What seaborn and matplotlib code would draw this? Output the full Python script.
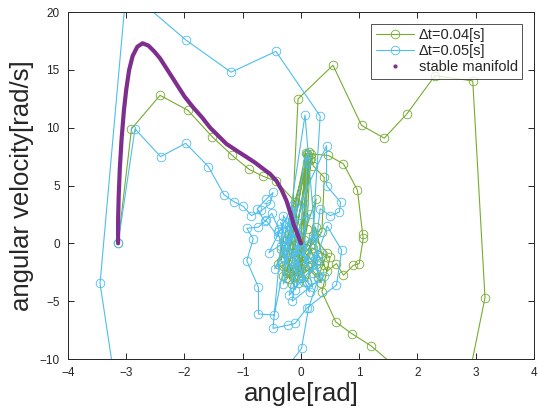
import numpy as np
import pandas as pd
import matplotlib
matplotlib.use('Agg')
import matplotlib.pyplot as plt
import seaborn as sns
from matplotlib.lines import Line2D

# trajectory for dt = 0.04 s
g_angle = [-3.14, -2.91, -2.42, -1.94, -1.52, -1.18, -0.89, -0.65, -0.43, -0.10,
           -0.05, -0.25, 0.10, 0.02, -0.20, 0.14, 0.05, -0.10, 0.18, 0.21,
           0.40, 0.36, -0.15, 0.26, 0.15, -0.30, 0.12, 0.18, 0.47, 0.73,
           0.97, 1.06, 1.07, 1.00, 0.90, 0.73, 0.61, 0.45, 0.30, 0.10,
           -0.05, 0.20, 0.50, 0.36, 0.60, 0.87, 1.20, 2.73, 3.16, 2.95,
           2.30, 1.82, 1.43, 1.04, 0.55, -0.05, -0.15, -0.35, -0.20, 0.05,
           0.25, 0.00, -0.10, -0.30, 0.08, -0.05, -0.35, 0.12, 0.00, -0.25,
           0.16, 0.10, -0.15, 0.05, 0.30, 0.45, 0.20, -0.05, -0.30, -0.40,
           -0.20, 0.10, 0.35, 0.15, -0.10, 0.00, 0.25, 0.40, -0.15, 0.05]
g_vel = [0.0, 9.9, 12.8, 11.5, 9.2, 7.6, 6.4, 5.8, 5.4, 3.6,
         0.6, -2.4, 7.7, -1.9, -3.1, 7.9, -0.8, -2.9, 7.4, 6.7,
         5.7, 1.0, -2.2, 3.85, -1.2, -2.8, 7.6, 7.73, 7.6, 6.87,
         4.6, 0.78, 0.45, -1.75, -1.9, -2.76, -1.75, -2.4, -1.0, -3.3,
         -2.0, -0.4, -1.2, -4.2, -6.8, -7.8, -8.85, -15.4, -4.7, 14.05,
         14.5, 11.2, 9.1, 10.2, 15.4, 12.5, 2.0, -1.5, 0.8, -2.6,
         -1.8, -0.5, 1.5, -2.0, 7.8, -3.4, -0.5, 7.5, -2.2, -3.0,
         7.2, 1.2, -3.5, -1.5, -2.9, -0.8, 0.6, -1.1, 0.2, -1.8,
         -2.6, -2.0, -3.4, -0.2, 0.2, -3.0, 1.4, -1.9, -1.5, 0.3]

# trajectory for dt = 0.05 s
b_angle = [-3.14, -2.85, -2.41, -1.98, -1.59, -1.32, -1.15, -0.99, -0.85, -0.68,
           -0.53, -0.48, -0.60, -0.75, -0.62, -0.50, -0.38, -0.40, -0.60, -0.73,
           -0.93, -0.82, -0.93, -0.73, -0.73, -0.46, -0.25, 0.10, 0.10, 0.05,
           -0.20, 0.44, 0.44, 0.68, 0.66, 0.50, 0.33, 0.20, -0.10, -0.30,
           -0.48, -0.22, -0.10, 0.10, 0.61, 0.70, 0.45, 0.25, -0.35, -0.15,
           -0.30, 0.15, -0.40, -0.10, 0.25, -0.45, 0.05, -0.20, 0.30, -0.35,
           -0.05, 0.15, -0.25, 0.40, -0.15, 0.00, -0.55, -0.15, 0.20, -0.30,
           0.07, 0.30, 0.13, 0.01, -2.74, -3.45, -3.00, -1.98, -1.20, -0.43,
           0.33, 0.20, -0.10, 0.35]
b_vel = [0.0, 9.9, 7.5, 8.65, 6.64, 4.2, 3.6, 3.2, 2.4, 2.85,
         3.4, 4.4, 3.8, 3.0, 1.9, 2.6, 1.2, 0.6, 2.0, 1.4,
         1.3, 0.4, -1.5, -3.8, -6.1, -6.2, -1.0, 7.7, 7.0, -3.3,
         1.5, 8.45, 5.0, 3.56, 2.7, 2.4, 3.0, -2.6, 0.5, 2.4,
         -7.35, -7.07, -6.92, -5.6, -3.6, -0.6, 1.5, -1.5, -0.2, 2.8,
         -3.5, 2.5, 1.0, -4.0, 0.8, -2.2, 3.5, -4.5, -1.5, 1.8,
         -3.0, -4.2, 0.3, -2.8, -5.0, 1.0, -0.8, 3.2, -3.8, -1.2,
         11.1, -3.0, -5.6, -9.08, -27.1, -3.47, 22.0, 17.6, 14.8, 16.6,
         11.0, 0.5, -2.0, -0.8]

# stable manifold
m_angle = [-3.14, -3.14, -3.13, -3.11, -3.08, -3.04, -3.00, -2.95, -2.89, -2.81,
           -2.72, -2.62, -2.52, -2.42, -2.28, -2.14, -2.00, -1.85, -1.70, -1.56,
           -1.42, -1.28, -1.10, -0.93, -0.78, -0.65, -0.53, -0.42, -0.33, -0.25,
           -0.18, -0.13, -0.06, 0.00]
m_vel = [0.0, 2.0, 4.0, 6.5, 9.0, 11.5, 13.3, 15.0, 16.2, 17.0,
         17.3, 17.1, 16.6, 16.0, 14.9, 13.8, 12.7, 11.75, 10.9, 10.0,
         9.3, 8.6, 8.0, 7.45, 6.95, 6.45, 6.0, 5.4, 4.6, 3.7,
         2.6, 1.7, 0.8, 0.0]

green = '#77AC30'
blue = '#4DBEEE'
purple = '#7E2F8E'

sns.set_style('ticks')
plt.rcParams['font.family'] = ['Liberation Sans', 'DejaVu Sans']

fig = plt.figure(figsize=(5.38, 4.16), dpi=100)
ax = fig.add_axes([0.1264, 0.137, 0.866, 0.834])

g_df = pd.DataFrame({'angle': g_angle, 'vel': g_vel})
b_df = pd.DataFrame({'angle': b_angle, 'vel': b_vel})
m_df = pd.DataFrame({'angle': m_angle, 'vel': m_vel})

mk = dict(marker='o', markersize=6.2, markerfacecolor='none', markeredgewidth=0.6)
sns.lineplot(data=g_df, x='angle', y='vel', sort=False, estimator=None, ax=ax,
             color=green, lw=0.8, markeredgecolor=green, **mk)
sns.lineplot(data=b_df, x='angle', y='vel', sort=False, estimator=None, ax=ax,
             color=blue, lw=0.8, markeredgecolor=blue, **mk)
sns.lineplot(data=m_df, x='angle', y='vel', sort=False, estimator=None, ax=ax,
             color=purple, lw=3.0, solid_capstyle='round')

ax.set_xlim(-4, 4)
ax.set_ylim(-10, 20)
ax.set_xticks(range(-4, 5))
ax.set_yticks(range(-10, 21, 5))
ax.tick_params(which='major', direction='in', bottom=True, left=True, top=True, right=True,
               length=4, width=0.7, color='#262626', labelcolor='#262626',
               labelsize=8.5, pad=6)
for s in ax.spines.values():
    s.set_visible(True)
    s.set_color('#262626')
    s.set_linewidth(0.7)

ax.set_xlabel('angle[rad]', fontsize=18.5, color='#262626', labelpad=2)
ax.set_ylabel('angular velocity[rad/s]', fontsize=18.5, color='#262626', labelpad=4)

handles = [
    Line2D([], [], color=green, lw=0.8, **mk),
    Line2D([], [], color=blue, lw=0.8, **mk),
    Line2D([], [], color=purple, lw=0, marker='.', markersize=4),
]
leg = ax.legend(handles, ['Δt=0.04[s]', 'Δt=0.05[s]', 'stable manifold'],
                loc='upper right', fontsize=10.5, frameon=True, fancybox=False,
                edgecolor='#262626', handlelength=2.6, handletextpad=0.35,
                borderaxespad=0.8, labelspacing=0.15, borderpad=0.3)
leg.get_frame().set_linewidth(0.7)

fig.savefig('out.png', dpi=100)
